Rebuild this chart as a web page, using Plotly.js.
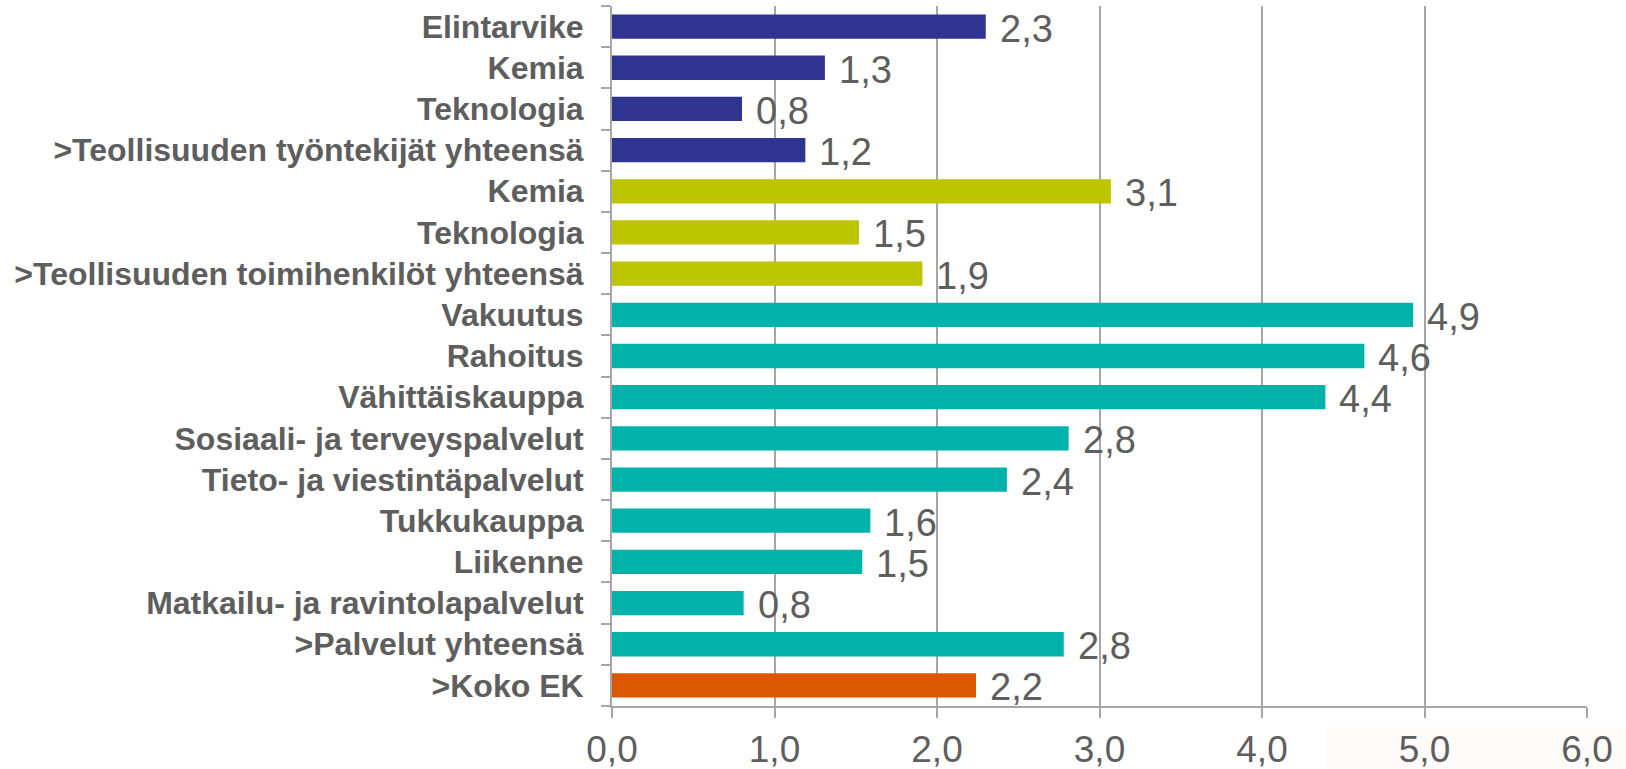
<!DOCTYPE html>
<html>
<head>
<meta charset="utf-8">
<script src="https://cdn.plot.ly/plotly-3.0.1.min.js"></script>
<style>
  html, body { margin: 0; padding: 0; background: #ffffff; }
  #chart { width: 1626px; height: 769px; }
</style>
</head>
<body>
<div id="chart"></div>
<script>
const categories = [
  "Elintarvike",
  "Kemia",
  "Teknologia",
  ">Teollisuuden työntekijät yhteensä",
  "Kemia",
  "Teknologia",
  ">Teollisuuden toimihenkilöt yhteensä",
  "Vakuutus",
  "Rahoitus",
  "Vähittäiskauppa",
  "Sosiaali- ja terveyspalvelut",
  "Tieto- ja viestintäpalvelut",
  "Tukkukauppa",
  "Liikenne",
  "Matkailu- ja ravintolapalvelut",
  ">Palvelut yhteensä",
  ">Koko EK"
];
const values = [2.30, 1.31, 0.80, 1.19, 3.07, 1.52, 1.91, 4.93, 4.63, 4.39, 2.81, 2.43, 1.59, 1.54, 0.81, 2.78, 2.24];
const groups = [
  "työntekijät", "työntekijät", "työntekijät", "työntekijät",
  "toimihenkilöt", "toimihenkilöt", "toimihenkilöt",
  "palvelut", "palvelut", "palvelut", "palvelut", "palvelut", "palvelut", "palvelut", "palvelut", "palvelut",
  "koko"
];
const xTickValues = [0, 1, 2, 3, 4, 5, 6];

const groupColors = {
  "työntekijät": "#2E3490",
  "toimihenkilöt": "#BCC500",
  "palvelut": "#00B2AA",
  "koko": "#DC5800"
};

const idx = categories.map((_, i) => i);
const fmt = v => v.toFixed(1).replace('.', ',');
const gray = "#A6A6A6";
const textGray = "#5E5E5E";

const trace = {
  type: 'bar',
  orientation: 'h',
  x: values,
  y: idx,
  marker: { color: groups.map(g => groupColors[g]), line: { width: 0 } },
  hoverinfo: 'skip'
};

const annotations = values.map((v, i) => ({
  x: v, y: i, xref: 'x', yref: 'y',
  text: fmt(v),
  showarrow: false,
  xanchor: 'left', yanchor: 'middle',
  xshift: 12, yshift: -2,
  font: { family: 'Liberation Sans, Arial, sans-serif', size: 38, color: textGray }
}));

const boundaries = [];
for (let i = 0; i <= categories.length; i++) boundaries.push(i - 0.5);

const layout = {
  width: 1626,
  height: 769,
  margin: { l: 612, r: 39, t: 6, b: 63, pad: 0 },
  paper_bgcolor: '#ffffff',
  plot_bgcolor: '#ffffff',
  separators: ',.',
  showlegend: false,
  bargap: 0.41,
  xaxis: {
    range: [0, 6],
    tickvals: xTickValues,
    tickformat: '.1f',
    showgrid: true,
    gridcolor: gray,
    gridwidth: 2,
    zeroline: false,
    showline: true,
    linecolor: gray,
    linewidth: 2,
    ticks: 'outside',
    ticklen: 10,
    tickwidth: 2,
    tickcolor: gray,
    ticklabelstandoff: 0,
    tickfont: { family: 'Liberation Sans, Arial, sans-serif', size: 37, color: textGray },
    fixedrange: true
  },
  yaxis: {
    range: [16.5, -0.5],
    tickvals: idx,
    ticktext: categories,
    showgrid: false,
    zeroline: false,
    showline: true,
    linecolor: gray,
    linewidth: 2,
    ticks: 'outside',
    ticklen: 20,
    tickcolor: 'rgba(0,0,0,0)',
    tickfont: { family: 'Liberation Sans, Arial, sans-serif', size: 32, color: textGray, weight: 'bold' },
    minor: {
      tickvals: boundaries,
      ticks: 'outside',
      ticklen: 9,
      tickwidth: 2,
      tickcolor: gray,
      showgrid: false
    },
    fixedrange: true
  },
  annotations: annotations,
  shapes: [
    {
      type: 'rect', xref: 'paper', yref: 'paper', layer: 'below',
      x0: 0.731, x1: 1.05, y0: -0.03, y1: -0.1,
      fillcolor: '#FDFCFA', line: { width: 0 }
    }
  ]
};

Plotly.newPlot('chart', [trace], layout, { displayModeBar: false, staticPlot: true });
</script>
</body>
</html>
